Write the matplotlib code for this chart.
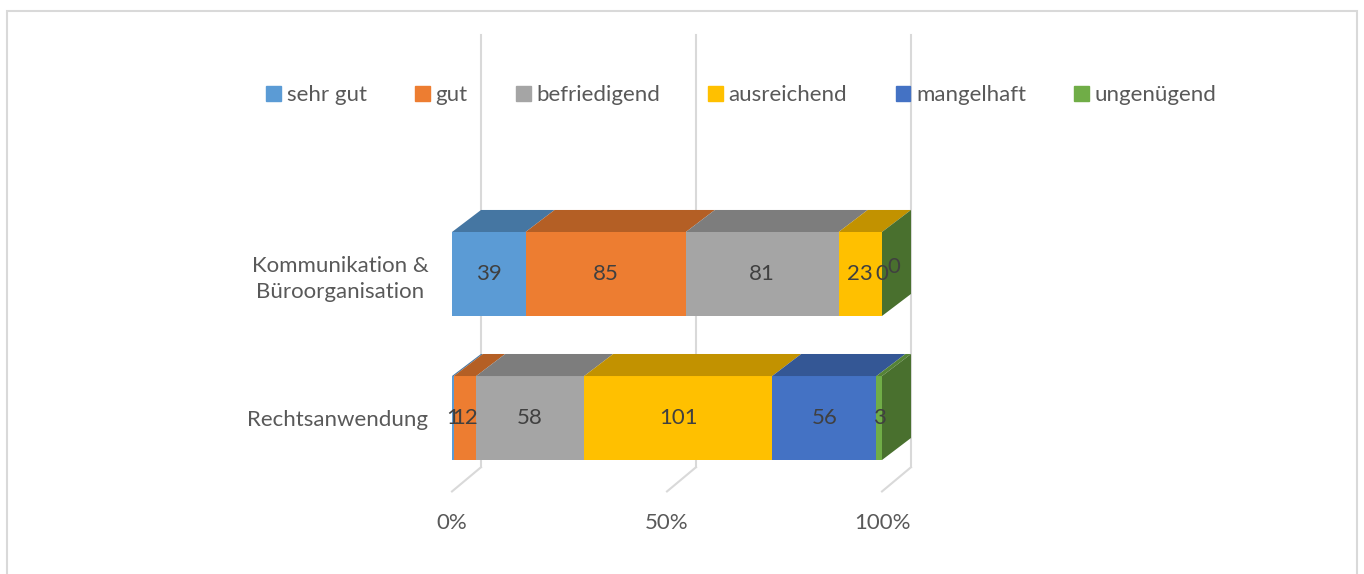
import numpy as np
import matplotlib
matplotlib.use("Agg")
import matplotlib.pyplot as plt
from matplotlib.patches import Polygon, Patch, Rectangle
from matplotlib.colors import to_rgb

plt.rcParams['font.family'] = ['Lato', 'DejaVu Sans']

# Daten
kategorien = ["Rechtsanwendung", "Kommunikation &\nBüroorganisation"]
noten = ["sehr gut", "gut", "befriedigend", "ausreichend", "mangelhaft", "ungenügend"]
sehr_gut = [1, 39]
gut = [12, 85]
befriedigend = [58, 81]
ausreichend = [101, 23]
mangelhaft = [56, 0]
ungenuegend = [3, 0]
ticks = [0, 50, 100]
tick_labels = ["0%", "50%", "100%"]

farben = ["#5B9BD5", "#ED7D31", "#A5A5A5", "#FFC000", "#4472C4", "#70AD47"]

werte = np.array([sehr_gut, gut, befriedigend, ausreichend, mangelhaft, ungenuegend], dtype=float)
anteile = werte / werte.sum(axis=0) * 100  # 100% gestapelt
links = np.vstack([np.zeros(2), np.cumsum(anteile, axis=0)[:-1]])

# Geometrie (3D-Effekt)
h = 0.583   # Balkenhoehe
dx = 6.75   # Tiefe in x (Prozent)
dy = 0.153  # Tiefe in y

def dunkler(c, f):
    return tuple(np.array(to_rgb(c)) * f)

fig = plt.figure(figsize=(13.64, 5.74), dpi=100)
ax = fig.add_axes([452 / 1364, (574 - 460) / 574, 430 / 1364, 228 / 574])
ax.set_xlim(0, 100)
ax.set_ylim(-h / 2, 1 + h / 2)
for s in ax.spines.values():
    s.set_visible(False)

y = np.arange(len(kategorien))

# Gitterlinien (Rueckwand + Boden)
oben = 2.66
boden = -h / 2 - 0.05
for t in ticks:
    ax.plot([t + dx, t + dx], [boden, oben], color="#d9d9d9", lw=1.5, clip_on=False, zorder=0)
    ax.plot([t + dx, t], [boden, boden - dy * 1.1], color="#d9d9d9", lw=1.5, clip_on=False, zorder=0)

# Vorderseiten
for i in range(len(noten)):
    ax.barh(y, anteile[i], left=links[i], height=h, color=farben[i], zorder=2, label=noten[i])

# Deckflaechen
for j in range(len(kategorien)):
    yt = y[j] + h / 2
    for i in range(len(noten)):
        l = links[i][j]
        r = l + anteile[i][j]
        ax.add_patch(Polygon([(l, yt), (r, yt), (r + dx, yt + dy), (l + dx, yt + dy)],
                             closed=True, color=dunkler(farben[i], 0.76), lw=0,
                             clip_on=False, zorder=2))
    # Seitenflaeche rechts
    yb = y[j] - h / 2
    ax.add_patch(Polygon([(100, yb), (100 + dx, yb + dy), (100 + dx, yt + dy), (100, yt)],
                         closed=True, color=dunkler(farben[-1], 0.65), lw=0,
                         clip_on=False, zorder=2))

# Datenbeschriftungen
for j in range(len(kategorien)):
    for i in range(len(noten)):
        xm = links[i][j] + anteile[i][j] / 2
        ym = y[j]
        if werte[i][j] == 0 and i == len(noten) - 1:
            xm += dx * 0.4
            ym += dy * 0.3
        ax.text(xm, ym, "%d" % werte[i][j], ha="center", va="center",
                fontsize=16, color="#404040", zorder=5, clip_on=False)

# Achsen
ax.set_yticks(y)
ax.set_yticklabels(kategorien)
for lab in ax.get_yticklabels():
    lab.set_multialignment("center")
    lab.set_linespacing(1.35)
ax.set_xticks(ticks)
ax.set_xticklabels(tick_labels)
ax.tick_params(axis="y", length=0, pad=17, labelsize=16, labelcolor="#595959")
ax.tick_params(axis="x", length=0, pad=38, labelsize=16, labelcolor="#595959")

# Legende
handles = [Patch(color=c, label=n) for c, n in zip(farben, noten)]
fig.legend(handles=handles, loc="center", bbox_to_anchor=(0.5436, 1 - 95 / 574), ncol=6,
           frameon=False, fontsize=16, labelcolor="#595959", handlelength=0.66,
           handleheight=0.66, handletextpad=0.25, columnspacing=2.18)

# Rahmen
fig.patches.append(Rectangle((7 / 1364, -0.1), 1350 / 1364, 1.1 - 11 / 574,
                             transform=fig.transFigure, fill=False,
                             edgecolor="#d9d9d9", lw=1.5))

fig.savefig("out.png", dpi=100)
